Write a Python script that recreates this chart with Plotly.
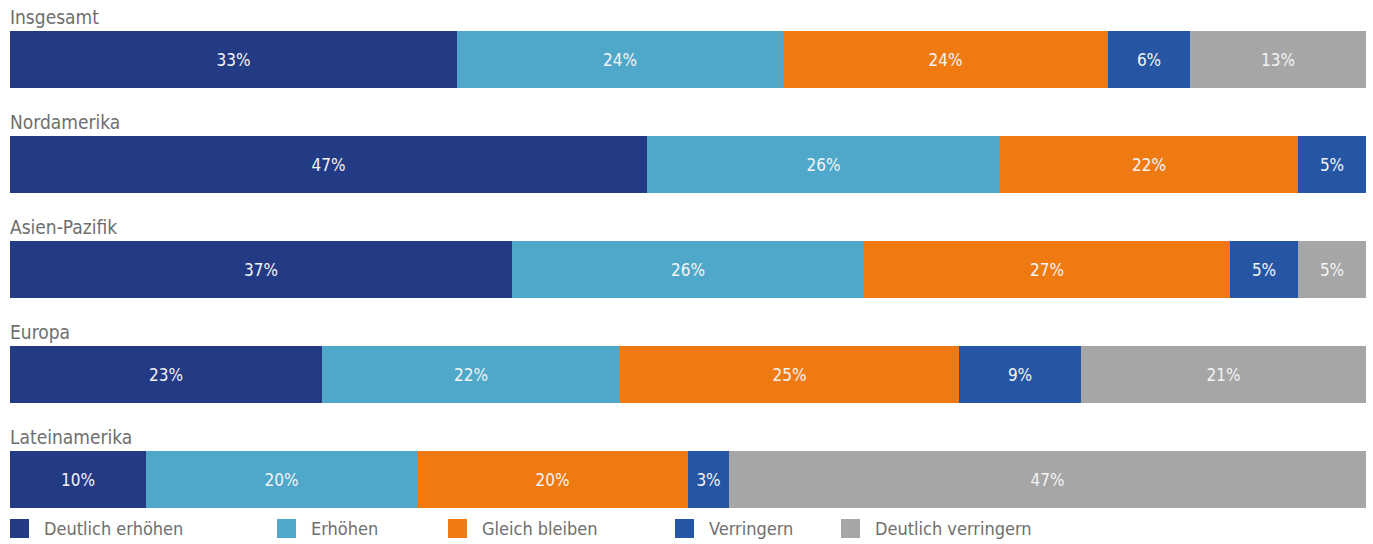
import plotly.graph_objects as go

# Regions (top to bottom) and the share of answers per category, in percent
regions = ["Insgesamt", "Nordamerika", "Asien-Pazifik", "Europa", "Lateinamerika"]
categories = ["Deutlich erhöhen", "Erhöhen", "Gleich bleiben", "Verringern", "Deutlich verringern"]

deutlich_erhoehen = [33, 47, 37, 23, 10]
erhoehen = [24, 26, 26, 22, 20]
gleich_bleiben = [24, 22, 27, 25, 20]
verringern = [6, 5, 5, 9, 3]
deutlich_verringern = [13, 0, 5, 21, 47]

series = [deutlich_erhoehen, erhoehen, gleich_bleiben, verringern, deutlich_verringern]
colors = ["#233a84", "#4fa8c9", "#ef7a12", "#2656a3", "#a6a6a6"]

FONT = "DejaVu Sans Condensed, Roboto, Arial, sans-serif"
TEXT_GREY = "#6e6e6e"

W, H = 1373, 544
ROW_PX = 105          # vertical distance between bar centres
FIRST_CENTER = 59.5   # pixel centre of first bar
BAR_PX = 57           # bar thickness

y_pos = list(range(len(regions)))
v0 = -FIRST_CENTER / ROW_PX
v1 = v0 + H / ROW_PX

fig = go.Figure()
for name, vals, col in zip(categories, series, colors):
    xs = [v if v > 0 else None for v in vals]
    fig.add_trace(go.Bar(
        name=name,
        x=xs,
        y=y_pos,
        orientation="h",
        width=BAR_PX / ROW_PX,
        marker=dict(color=col, line=dict(width=0)),
        text=[f"{v}%" if v > 0 else "" for v in vals],
        textposition="inside",
        insidetextanchor="middle",
        textangle=0,
        constraintext="none",
        textfont=dict(family=FONT, size=17, color="#f4f4f4"),
        hoverinfo="skip",
        showlegend=False,
    ))

# Region titles above each bar
for i, reg in enumerate(regions):
    fig.add_annotation(
        x=0, xref="paper", xanchor="left", xshift=-2,
        y=i - (BAR_PX / 2) / ROW_PX, yref="y", yanchor="bottom",
        yshift=1,
        text=reg, showarrow=False,
        font=dict(family=FONT, size=19, color=TEXT_GREY),
    )

# Legend row at the bottom
legend_x = [10, 277, 448, 675, 841]
sq = 19
top_px, bot_px = 519, 538
for x, name, col in zip(legend_x, categories, colors):
    fig.add_shape(
        type="rect", xref="paper", yref="paper",
        x0=(x - 10) / (W - 17), x1=(x + sq - 10) / (W - 17),
        y0=1 - bot_px / H, y1=1 - top_px / H,
        fillcolor=col, line=dict(width=0),
    )
    fig.add_annotation(
        x=(x + 34 - 10) / (W - 17), xref="paper", xanchor="left", xshift=-2,
        y=1 - (top_px + bot_px) / 2 / H, yref="paper", yanchor="middle",
        text=name, showarrow=False,
        font=dict(family=FONT, size=18, color=TEXT_GREY),
    )

fig.update_layout(
    barmode="stack",
    width=W, height=H,
    margin=dict(l=10, r=7, t=0, b=0),
    paper_bgcolor="white",
    plot_bgcolor="white",
    bargap=0,
    xaxis=dict(range=[0, 100], visible=False, fixedrange=True),
    yaxis=dict(range=[v1, v0], visible=False, fixedrange=True),
    showlegend=False,
)

fig.write_html("out.html")
